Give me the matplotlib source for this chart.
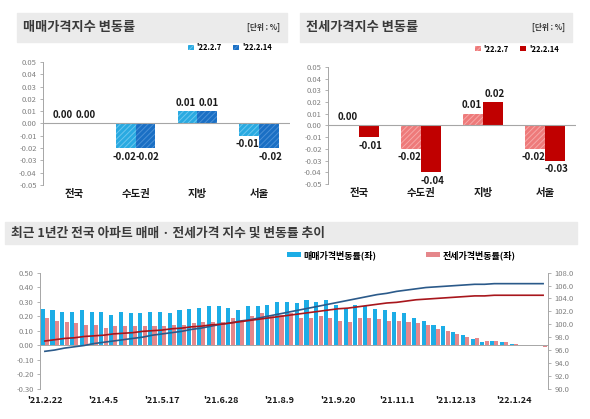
import matplotlib

matplotlib.use("Agg")
import matplotlib.pyplot as plt
import numpy as np
from matplotlib.patches import Rectangle
from matplotlib.ticker import FuncFormatter

plt.rcParams["font.family"] = ["Noto Sans CJK KR", "DejaVu Sans"]
plt.rcParams["hatch.linewidth"] = 0.7

# weekly change by region (%)
REGIONS = ["전국", "수도권", "지방", "서울"]
WEEK_LABELS = ["'22.2.7", "'22.2.14"]
SALE_PREV = [0.00, -0.02, 0.01, -0.01]
SALE_CURR = [0.00, -0.02, 0.01, -0.02]
JEONSE_PREV = [0.00, -0.02, 0.01, -0.02]
JEONSE_CURR = [-0.01, -0.04, 0.02, -0.03]

# last 52 weeks, national
DATE_TICKS = ["'21.2.22", "'21.4.5", "'21.5.17", "'21.6.28", "'21.8.9",
              "'21.9.20", "'21.11.1", "'21.12.13", "'22.1.24"]
SALE_CHANGE = [0.25, 0.24, 0.23, 0.23, 0.24, 0.23, 0.23, 0.21, 0.23, 0.22,
               0.22, 0.23, 0.23, 0.22, 0.24, 0.25, 0.26, 0.27, 0.27, 0.26,
               0.24, 0.27, 0.27, 0.28, 0.30, 0.30, 0.29, 0.31, 0.30, 0.31,
               0.28, 0.25, 0.28, 0.27, 0.25, 0.24, 0.23, 0.22, 0.19, 0.17,
               0.14, 0.13, 0.09, 0.07, 0.04, 0.02, 0.03, 0.02, 0.01, 0.00,
               0.00, 0.00]
JEONSE_CHANGE = [0.19, 0.17, 0.16, 0.15, 0.14, 0.14, 0.12, 0.13, 0.13, 0.13,
                 0.13, 0.13, 0.13, 0.14, 0.14, 0.15, 0.16, 0.16, 0.16, 0.19,
                 0.16, 0.20, 0.22, 0.20, 0.21, 0.22, 0.19, 0.19, 0.20, 0.19,
                 0.17, 0.16, 0.19, 0.19, 0.18, 0.17, 0.17, 0.16, 0.15, 0.14,
                 0.11, 0.10, 0.08, 0.06, 0.05, 0.03, 0.03, 0.02, 0.01, 0.00,
                 0.00, -0.01]
SALE_INDEX = [95.8, 96.0, 96.3, 96.5, 96.7, 97.0, 97.2, 97.4, 97.6, 97.8,
              98.0, 98.3, 98.5, 98.7, 98.9, 99.2, 99.4, 99.7, 100.0, 100.2,
              100.5, 100.7, 101.0, 101.3, 101.6, 101.9, 102.2, 102.5, 102.8, 103.1,
              103.4, 103.7, 104.0, 104.3, 104.6, 104.8, 105.1, 105.3, 105.5, 105.7,
              105.8, 105.9, 106.0, 106.1, 106.2, 106.2, 106.3, 106.3, 106.3, 106.3,
              106.3, 106.3]
JEONSE_INDEX = [97.4, 97.6, 97.8, 97.9, 98.1, 98.2, 98.3, 98.5, 98.6, 98.7,
                98.9, 99.0, 99.1, 99.3, 99.4, 99.6, 99.7, 99.9, 100.0, 100.2,
                100.4, 100.6, 100.8, 101.0, 101.2, 101.4, 101.6, 101.8, 102.0, 102.2,
                102.4, 102.5, 102.7, 102.9, 103.1, 103.3, 103.4, 103.6, 103.8, 103.9,
                104.0, 104.1, 104.2, 104.3, 104.4, 104.4, 104.5, 104.5, 104.5, 104.5,
                104.5, 104.5]

AXIS_GRAY = "#a6a6a6"
TICK_GRAY = "#808080"
TITLE_BG = "#ebebeb"
TITLE_FG = "#3a3a3a"


def _fmt(decimals):
    def f(v, _):
        if abs(v) < 1e-9:
            v = 0.0
        return f"{v:.{decimals}f}"
    return FuncFormatter(f)


def _title_box(fig, x0, x1, y0, y1, title, unit=None, size=9.5):
    W, H = fig.get_size_inches() * fig.dpi
    fig.patches.append(Rectangle((x0 / W, 1 - y1 / H), (x1 - x0) / W, (y1 - y0) / H,
                                 transform=fig.transFigure, color=TITLE_BG, zorder=0))
    fig.text((x0 + 6) / W, 1 - (y0 + y1) / 2 / H, title, fontsize=size, fontweight="bold",
             color=TITLE_FG, ha="left", va="center")
    if unit:
        fig.text((x1 - 7) / W, 1 - (y0 + y1) / 2 / H, unit, fontsize=5.5, fontweight="bold",
                 color="#333333", ha="right", va="center")


def _change_panel(fig, rect, prev, curr, colors, legend_at):
    ax = fig.add_axes(rect)
    x = np.arange(len(REGIONS))
    w = 0.32
    b1 = ax.bar(x - w / 2, prev, w, color=colors[0], edgecolor=colors[1],
                hatch="//////", linewidth=0)
    b2 = ax.bar(x + w / 2, curr, w, color=colors[2], edgecolor=colors[3],
                hatch="//////", linewidth=0)
    # labels nudged apart a little so neighbours don't touch
    for xs, vals in ((x - w / 2 - 0.025, prev), (x + w / 2 + 0.025, curr)):
        for xi, v in zip(xs, vals):
            up = v >= 0
            ax.text(xi, v + (0.003 if up else -0.003), f"{v:.2f}", ha="center",
                    va="bottom" if up else "top", fontsize=7, fontweight="bold",
                    color="#1a1a1a")
    ax.axhline(0, color=AXIS_GRAY, lw=0.8)
    ax.set_xlim(-0.5, len(REGIONS) - 0.5)
    ax.set_ylim(-0.05, 0.05)
    ax.set_yticks(np.round(np.arange(-0.05, 0.051, 0.01), 2))
    ax.yaxis.set_major_formatter(_fmt(2))
    ax.set_xticks(x, REGIONS)
    for lab in ax.get_xticklabels():
        lab.set_fontweight("bold")
    ax.tick_params(axis="x", length=0, labelsize=7.5, pad=3, labelcolor="#1a1a1a")
    ax.tick_params(axis="y", length=2.5, width=0.6, color=AXIS_GRAY, labelsize=5.5,
                   labelcolor=TICK_GRAY, pad=2)
    for s in ("top", "right", "bottom"):
        ax.spines[s].set_visible(False)
    ax.spines["left"].set_color(AXIS_GRAY)
    ax.spines["left"].set_linewidth(0.7)
    fig.legend([b1, b2], WEEK_LABELS, loc="center", bbox_to_anchor=legend_at, ncol=2,
               frameon=False, handlelength=0.7, handleheight=0.7,
               handletextpad=0.4, columnspacing=1.5, prop={"size": 5.5, "weight": "bold"})
    return ax


def _trend_panel(fig, rect):
    ax = fig.add_axes(rect)
    x = np.arange(len(SALE_CHANGE))
    b1 = ax.bar(x - 0.22, SALE_CHANGE, 0.42, color="#1cade6", linewidth=0)
    b2 = ax.bar(x + 0.22, JEONSE_CHANGE, 0.42, color="#e5878b", linewidth=0)
    ax.axhline(0, color=AXIS_GRAY, lw=0.7)
    ax.set_xlim(-0.5, len(x) - 0.5)
    ax.set_ylim(-0.3, 0.5)
    ax.set_yticks(np.round(np.arange(-0.3, 0.51, 0.1), 2))
    ax.yaxis.set_major_formatter(_fmt(2))
    ax.set_xticks(x[::6], DATE_TICKS)
    for lab in ax.get_xticklabels():
        lab.set_fontweight("bold")
    ax.tick_params(axis="x", length=0, labelsize=6.5, pad=5, labelcolor="#1a1a1a")
    ax.tick_params(axis="y", length=2.5, width=0.6, color=AXIS_GRAY, labelsize=5.5,
                   labelcolor=TICK_GRAY, pad=2)
    for s in ("top", "right", "bottom"):
        ax.spines[s].set_visible(False)
    ax.spines["left"].set_color(AXIS_GRAY)
    ax.spines["left"].set_linewidth(0.7)

    ax2 = ax.twinx()
    ax2.plot(x, SALE_INDEX, color="#2b5a8a", lw=1.2)
    ax2.plot(x, JEONSE_INDEX, color="#a8161c", lw=1.2)
    ax2.set_ylim(90, 108)
    ax2.set_yticks(np.arange(90, 108.1, 2))
    ax2.yaxis.set_major_formatter(_fmt(1))
    ax2.tick_params(axis="y", length=2.5, width=0.6, color=AXIS_GRAY, labelsize=5.5,
                    labelcolor=TICK_GRAY, pad=2)
    for s in ("top", "left", "bottom"):
        ax2.spines[s].set_visible(False)
    ax2.spines["right"].set_color(AXIS_GRAY)
    ax2.spines["right"].set_linewidth(0.7)

    fig.legend([b1, b2], ["매매가격변동률(좌)", "전세가격변동률(좌)"], loc="center",
               bbox_to_anchor=(401.5 / 590, 1 - 255 / 419), ncol=2, frameon=False,
               handlelength=1.5, handleheight=0.55, handletextpad=0.3, columnspacing=5.5,
               prop={"size": 6.5, "weight": "bold"})
    return ax


def main():
    fig = plt.figure(figsize=(5.9, 4.19), dpi=100)

    _title_box(fig, 17, 287, 13, 42, "매매가격지수 변동률", "[단위 : %]")
    _title_box(fig, 300, 572, 13, 42, "전세가격지수 변동률", "[단위 : %]")
    _title_box(fig, 5, 577, 222, 244,
               "최근 1년간 전국 아파트 매매 · 전세가격 지수 및 변동률 추이", size=9.2)

    _change_panel(fig, [43 / 590, 1 - 185 / 419, 247 / 590, 123 / 419],
                  SALE_PREV, SALE_CURR,
                  ("#29aae1", "#6cc6ee", "#1a6fc4", "#4a90d6"),
                  (230 / 590, 1 - 48 / 419))
    _change_panel(fig, [328 / 590, 1 - 184 / 419, 248 / 590, 117 / 419],
                  JEONSE_PREV, JEONSE_CURR,
                  ("#ee7a7a", "#f6a8a8", "#c00000", "#c00000"),
                  (517 / 590, 1 - 49 / 419))
    _trend_panel(fig, [40 / 590, 1 - 388.7 / 419, 508 / 590, 116 / 419])

    fig.savefig("out.png", dpi=100)
    plt.close(fig)


if __name__ == "__main__":
    main()
